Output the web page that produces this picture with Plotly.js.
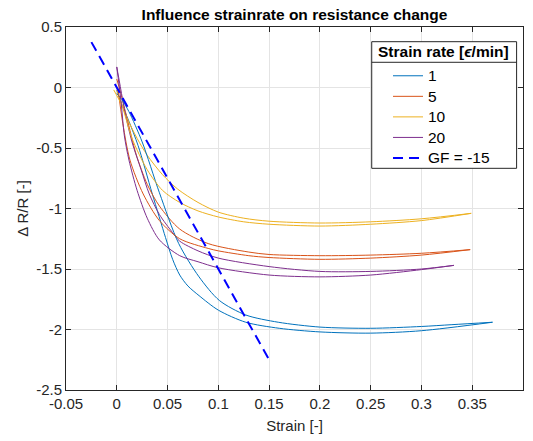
<!DOCTYPE html>
<html>
<head>
<meta charset="utf-8">
<script src="https://cdn.plot.ly/plotly-3.0.1.min.js"></script>
<style>html,body{margin:0;padding:0;background:#fff;}#chart{width:533px;height:441px;}</style>
</head>
<body>
<div id="chart"></div>
<script>
// ---- data ----
const rateLabels = ['1', '5', '10', '20'];
const legendTitle = 'Strain rate [<i>ϵ</i>/min]';

const s1LoadX = [0, 0.004, 0.012, 0.021, 0.035, 0.048, 0.055, 0.062, 0.07, 0.081, 0.1, 0.127, 0.16, 0.2, 0.25, 0.3, 0.37];
const s1LoadY = [-0.02, -0.12, -0.28, -0.48, -0.88, -1.24, -1.42, -1.55, -1.64, -1.72, -1.84, -1.94, -1.99, -2.02, -2.03, -2.01, -1.94];
const s1UnX = [0.37, 0.33, 0.3, 0.25, 0.2, 0.159, 0.127, 0.101, 0.081, 0.061, 0.042, 0.025, 0.012, 0.005, 0];
const s1UnY = [-1.94, -1.96, -1.975, -1.99, -1.98, -1.94, -1.88, -1.76, -1.565, -1.29, -0.87, -0.45, -0.2, -0.1, -0.05];

const s5LoadX = [0, 0.004, 0.01, 0.019, 0.03, 0.042, 0.062, 0.09, 0.13, 0.15, 0.2, 0.25, 0.3, 0.348];
const s5LoadY = [0.07, -0.05, -0.25, -0.55, -0.8, -0.98, -1.17, -1.29, -1.36, -1.38, -1.39, -1.385, -1.37, -1.34];
const s5UnX = [0.348, 0.3, 0.25, 0.2, 0.15, 0.13, 0.1, 0.09, 0.062, 0.042, 0.026, 0.013, 0.006, 0.001];
const s5UnY = [-1.34, -1.385, -1.41, -1.42, -1.405, -1.39, -1.35, -1.33, -1.25, -1.1, -0.88, -0.6, -0.3, 0.0];

const s10LoadX = [0, 0.01, 0.02, 0.03, 0.045, 0.06, 0.08, 0.1, 0.125, 0.15, 0.2, 0.25, 0.3, 0.349];
const s10LoadY = [-0.02, -0.25, -0.42, -0.56, -0.72, -0.84, -0.95, -1.03, -1.08, -1.105, -1.12, -1.11, -1.085, -1.04];
const s10UnX = [0.349, 0.3, 0.25, 0.2, 0.15, 0.125, 0.1, 0.08, 0.062, 0.045, 0.03, 0.015, 0.005, -0.003];
const s10UnY = [-1.04, -1.10, -1.13, -1.145, -1.13, -1.11, -1.07, -1.02, -0.95, -0.85, -0.68, -0.42, -0.15, -0.02];

const s20LoadX = [0, 0.003, 0.008, 0.015, 0.024, 0.032, 0.042, 0.055, 0.062, 0.08, 0.1, 0.15, 0.2, 0.25, 0.3, 0.332];
const s20LoadY = [0.17, 0.03, -0.2, -0.45, -0.68, -0.88, -1.05, -1.2, -1.27, -1.35, -1.41, -1.48, -1.52, -1.52, -1.50, -1.47];
const s20UnX = [0.332, 0.3, 0.25, 0.2, 0.15, 0.1, 0.08, 0.062, 0.042, 0.03, 0.02, 0.012, 0.0075, 0.004, 0];
const s20UnY = [-1.47, -1.505, -1.55, -1.565, -1.55, -1.49, -1.44, -1.39, -1.26, -1.08, -0.85, -0.6, -0.4, -0.1, 0.17];

const gfLabel = 'GF = -15';
const gfX = [-0.025, 0.15];
const gfY = [0.375, -2.25];

const xTickVals = [-0.05, 0, 0.05, 0.1, 0.15, 0.2, 0.25, 0.3, 0.35, 0.4];
const xTickText = ['-0.05', '0', '0.05', '0.1', '0.15', '0.2', '0.25', '0.3', '0.35', '0.4'];
const yTickVals = [0.5, 0, -0.5, -1, -1.5, -2, -2.5];
const yTickText = ['0.5', '0', '-0.5', '-1', '-1.5', '-2', '-2.5'];

// ---- styling ----
const FONT = 'Liberation Sans, Arial, Helvetica, sans-serif';
const colors = ['#0072BD', '#D95319', '#EDB120', '#7E2F8E'];
const big = t => '<span style="font-size:15.5px">' + t + '</span>';
const series = [
  [s1LoadX, s1LoadY, s1UnX, s1UnY],
  [s5LoadX, s5LoadY, s5UnX, s5UnY],
  [s10LoadX, s10LoadY, s10UnX, s10UnY],
  [s20LoadX, s20LoadY, s20UnX, s20UnY]
];
const traces = [];
series.forEach((s, i) => {
  traces.push({x: s[0], y: s[1], mode: 'lines', name: big(rateLabels[i]),
    line: {color: colors[i], width: 1, shape: 'spline', smoothing: 0.8}});
});
series.forEach((s, i) => {
  traces.push({x: s[2], y: s[3], mode: 'lines', name: rateLabels[i], showlegend: false,
    line: {color: colors[i], width: 1, shape: 'spline', smoothing: 0.8}});
});
traces.push({x: gfX, y: gfY, mode: 'lines', name: big(gfLabel),
  line: {color: '#0000FF', width: 2, dash: '10px,6px'}});

const axisCommon = {
  showline: true, linecolor: '#262626', linewidth: 1, mirror: 'ticks',
  ticks: 'inside', ticklen: 5, tickcolor: '#262626', tickwidth: 1,
  showgrid: true, gridcolor: '#e4e4e4', gridwidth: 1, zeroline: false,
  tickfont: {family: FONT, size: 15, color: '#262626'},
  tickmode: 'array'
};

const legL = 0.669, legR = 0.986, legT = 0.9595, legB = 0.6107, legSep = 0.9028;

const layout = {
  width: 533, height: 441,
  margin: {l: 66, r: 10, t: 27, b: 51},
  paper_bgcolor: '#fff', plot_bgcolor: '#fff',
  font: {family: FONT, size: 15, color: '#262626'},
  title: {text: '<b>Influence strainrate on resistance change</b>', x: 0.5, xref: 'paper',
    y: 1 - 15 / 441, yref: 'container', yanchor: 'middle',
    font: {family: FONT, size: 15.5, color: '#000'}},
  xaxis: Object.assign({}, axisCommon, {range: [-0.05, 0.4], tickvals: xTickVals, ticktext: xTickText,
    title: {text: 'Strain [-]', standoff: 9, font: {family: FONT, size: 15, color: '#262626'}}}),
  yaxis: Object.assign({}, axisCommon, {range: [-2.5, 0.5], tickvals: yTickVals, ticktext: yTickText,
    title: {text: 'Δ R/R [-]', standoff: 3, font: {family: FONT, size: 15, color: '#262626'}}}),
  showlegend: true,
  legend: {x: 0.7046, y: 0.9077, xanchor: 'left', yanchor: 'top',
    bgcolor: 'rgba(0,0,0,0)', borderwidth: 0,
    font: {family: FONT, size: 13.5, color: '#000'},
    tracegroupgap: 0},
  annotations: [
    {text: '<b>' + legendTitle + '</b>', xref: 'paper', yref: 'paper', x: legL + 0.009, y: (legT + legSep) / 2,
      xanchor: 'left', yanchor: 'middle', showarrow: false,
      font: {family: FONT, size: 15.5, color: '#000'}}
  ],
  shapes: [
    {type: 'rect', xref: 'paper', yref: 'paper', x0: legL, x1: legR, y0: legB, y1: legT,
      fillcolor: '#fff', line: {color: '#262626', width: 1}, layer: 'above'},
    {type: 'line', xref: 'paper', yref: 'paper', x0: legL, x1: legR, y0: legSep, y1: legSep,
      line: {color: '#262626', width: 1}, layer: 'above'}
  ]
};

Plotly.newPlot('chart', traces, layout, {staticPlot: true, displayModeBar: false});
</script>
</body>
</html>
